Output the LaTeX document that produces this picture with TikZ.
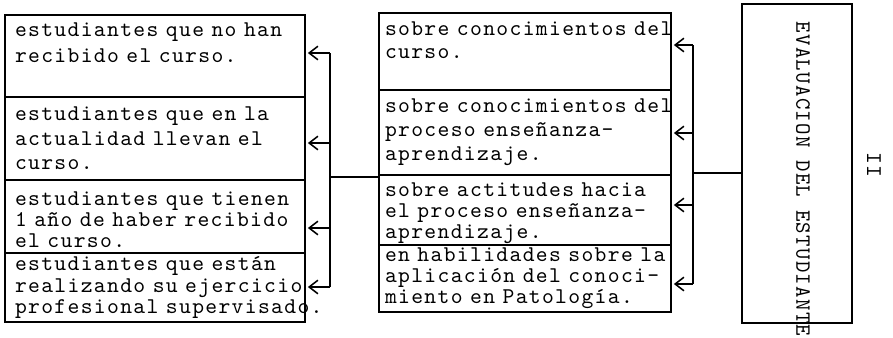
\documentclass[tikz,border=0pt]{standalone}
\usepackage{fontspec}
\usepackage{graphicx}
\usepackage{tikz}
\usetikzlibrary{arrows.meta, positioning}
\newfontfamily\maquina{lmmono10-regular.otf}[LetterSpace=6]
\newcommand{\renglon}[1]{\mbox{#1}}
\tikzstyle{caja} = [rectangle, draw=black, line width=1.1pt, outer sep=0pt, inner ysep=0pt, align=left, font=\maquina\fontsize{16}{15}\selectfont]
\tikzstyle{cajaIzq} = [caja, inner xsep=0.25cm, text width=7.0cm]
\tikzstyle{cajaMed} = [caja, inner xsep=0.15cm, text width=7.0cm]
\tikzstyle{linea} = [line width=1.1pt]
\tikzstyle{flecha} = [line width=1.1pt, -{Straight Barb[length=2.2mm, width=3.4mm]}, shorten >=0.07cm]

\begin{document}
\begin{tikzpicture}[x=0.025cm, y=-0.025cm]
    \path[use as bounding box] (0,0) rectangle (893,337);
    % columna izquierda
    \node (l1) [cajaIzq, anchor=north west, minimum height=2.05cm, font=\maquina\fontsize{16}{19}\selectfont] at (5,15)
        {\renglon{estudiantes que no han}\\\renglon{recibido el curso.}\\\mbox{}};
    \node (l2) [cajaIzq, below=0pt of l1, minimum height=2.075cm, font=\maquina\fontsize{16}{17.5}\selectfont]
        {\renglon{estudiantes que en la}\\\renglon{actualidad llevan el}\\\renglon{curso.}};
    \node (l3) [cajaIzq, below=0pt of l2, minimum height=1.825cm]
        {\renglon{\rule{0pt}{14pt}estudiantes que tienen}\\\renglon{1 año de haber recibido}\\\renglon{el curso.}};
    \node (l4) [cajaIzq, below=0pt of l3, minimum height=1.725cm]
        {\renglon{estudiantes que están}\\\renglon{realizando su ejercicio}\\\renglon{profesional supervisado.}};
    % columna central
    \node (m1) [cajaMed, anchor=north west, minimum height=1.925cm, font=\maquina\fontsize{16}{16}\selectfont] at (379,13)
        {\renglon{sobre conocimientos del}\\\renglon{curso.}\\\mbox{}};
    \node (m2) [cajaMed, below=0pt of m1, minimum height=2.125cm, font=\maquina\fontsize{16}{17}\selectfont]
        {\renglon{sobre conocimientos del}\\\renglon{proceso enseñanza-}\\\renglon{aprendizaje.}};
    \node (m3) [cajaMed, below=0pt of m2, minimum height=1.75cm]
        {\renglon{\rule{0pt}{14pt}sobre actitudes hacia}\\\renglon{el proceso enseñanza-}\\\renglon{aprendizaje.}};
    \node (m4) [cajaMed, below=0pt of m3, minimum height=1.675cm]
        {\renglon{en habilidades sobre la}\\\renglon{aplicación del conoci-}\\\renglon{miento en Patología.}};
    % evaluacion
    \node (eval) [caja, anchor=north west, minimum width=2.75cm, minimum height=7.975cm, font=\maquina\fontsize{15.5}{15}\selectfont] at (742,4)
        {\hspace{0.3cm}\rotatebox{-90}{\makebox[7.5cm][l]{\hspace{0.2cm}EVALUACION DEL ESTUDIANTE}}};
    \node (num) [font=\maquina\fontsize{16}{16}\selectfont, rotate=-90] at (874,165) {II};
    % llaves con flechas
    \coordinate (a1) at (330,53);
    \coordinate (a2) at (330,143);
    \coordinate (a3) at (330,228);
    \coordinate (a4) at (330,287);
    \coordinate (ac) at (330,177);
    \coordinate (b1) at (693,45);
    \coordinate (b2) at (693,133);
    \coordinate (b3) at (693,205);
    \coordinate (b4) at (693,284);
    \coordinate (bc) at (693,173);
    \draw [linea] (a1) -- (a4);
    \draw [linea] (b1) -- (b4);
    \foreach \i in {1,...,4} {
        \draw [flecha] (a\i) -- (a\i -| l1.east);
        \draw [flecha] (b\i) -- (b\i -| m1.east);
    }
    \draw [linea] (ac) -- (ac -| m1.west);
    \draw [linea] (bc) -- (bc -| eval.west);
\end{tikzpicture}
\end{document}
